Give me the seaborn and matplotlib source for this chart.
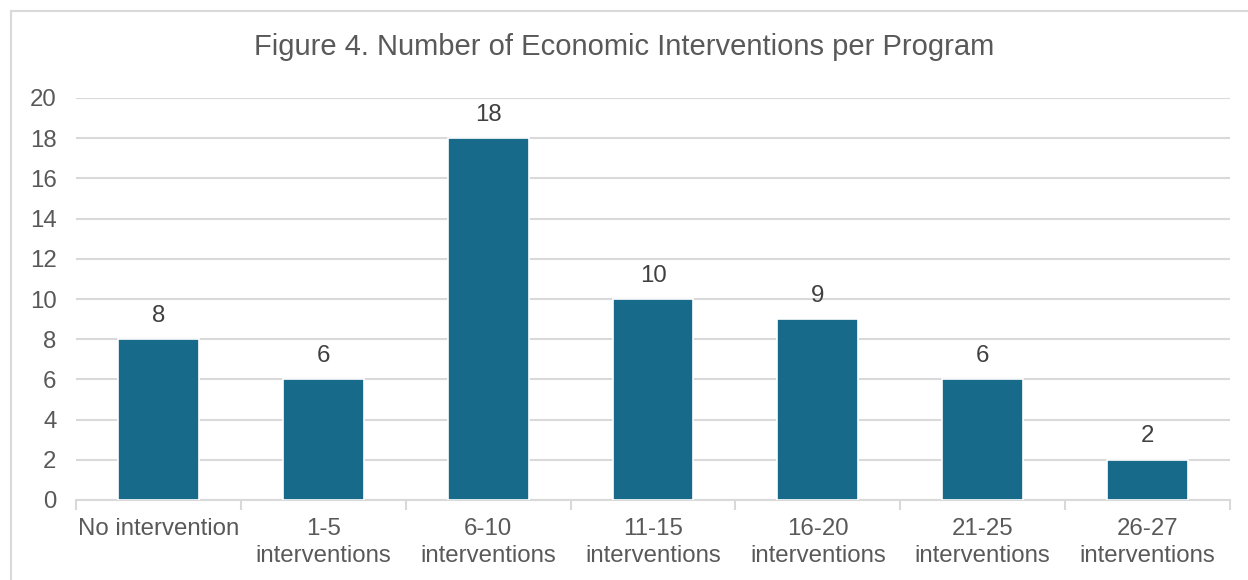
import matplotlib
matplotlib.use("Agg")
import matplotlib.pyplot as plt
import seaborn as sns
import pandas as pd
from matplotlib.patches import Rectangle

categories = ["No intervention", "1-5\ninterventions", "6-10\ninterventions",
              "11-15\ninterventions", "16-20\ninterventions",
              "21-25\ninterventions", "26-27\ninterventions"]
programs = [8, 6, 18, 10, 9, 6, 2]
y_ticks = [0, 2, 4, 6, 8, 10, 12, 14, 16, 18, 20]
title = "Figure 4. Number of Economic Interventions per Program"

sns.set_theme(style="white")
plt.rcParams["font.family"] = ["Liberation Sans", "DejaVu Sans"]

BAR = "#176A89"
TEXT = "#595959"
GRID = "#D9D9D9"

df = pd.DataFrame({"category": categories, "programs": programs})

fig = plt.figure(figsize=(12.48, 5.8), dpi=100)
fig.patch.set_facecolor("white")
ax = fig.add_axes([76 / 1248, 1 - 500 / 580, (1230 - 76) / 1248, (500 - 98) / 580])

sns.barplot(data=df, x="category", y="programs", color=BAR, width=0.49,
            edgecolor="white", linewidth=1.2, saturation=1, ax=ax, zorder=3)

ax.set_ylim(0, 20)
ax.set_yticks(y_ticks)
ax.set_xlim(-0.5, len(categories) - 0.5)
ax.set_xlabel("")
ax.set_ylabel("")

ax.grid(axis="y", color=GRID, linewidth=1.5, zorder=0)
ax.set_axisbelow(True)
for side in ("top", "right", "left"):
    ax.spines[side].set_visible(False)
ax.spines["bottom"].set_color(GRID)
ax.spines["bottom"].set_linewidth(1.5)

ax.tick_params(axis="y", labelsize=17.3, labelcolor=TEXT, length=0, pad=14)
ax.tick_params(axis="x", labelsize=17.3, labelcolor=TEXT, length=0, pad=13,
               bottom=True)
for lbl in ax.get_xticklabels():
    lbl.set_linespacing(1.3)

# category separator ticks below the axis
ax.set_xticks([i - 0.5 for i in range(len(categories) + 1)], minor=True)
ax.tick_params(axis="x", which="minor", bottom=True, length=7, width=1.5,
               color=GRID, direction="out")

for container in ax.containers:
    ax.bar_label(container, labels=[str(v) for v in programs], padding=9,
                 fontsize=17.3, color="#404040")

fig.text(0.5, 1 - 47 / 580, title, ha="center", va="center",
         fontsize=21, color=TEXT)

fig.patches.append(Rectangle((11 / 1248, -0.1), 1.2, 1 - 11 / 580 + 0.1,
                             transform=fig.transFigure, fill=False,
                             edgecolor=GRID, linewidth=1.5))

fig.savefig("out.png", dpi=100, facecolor="white")
